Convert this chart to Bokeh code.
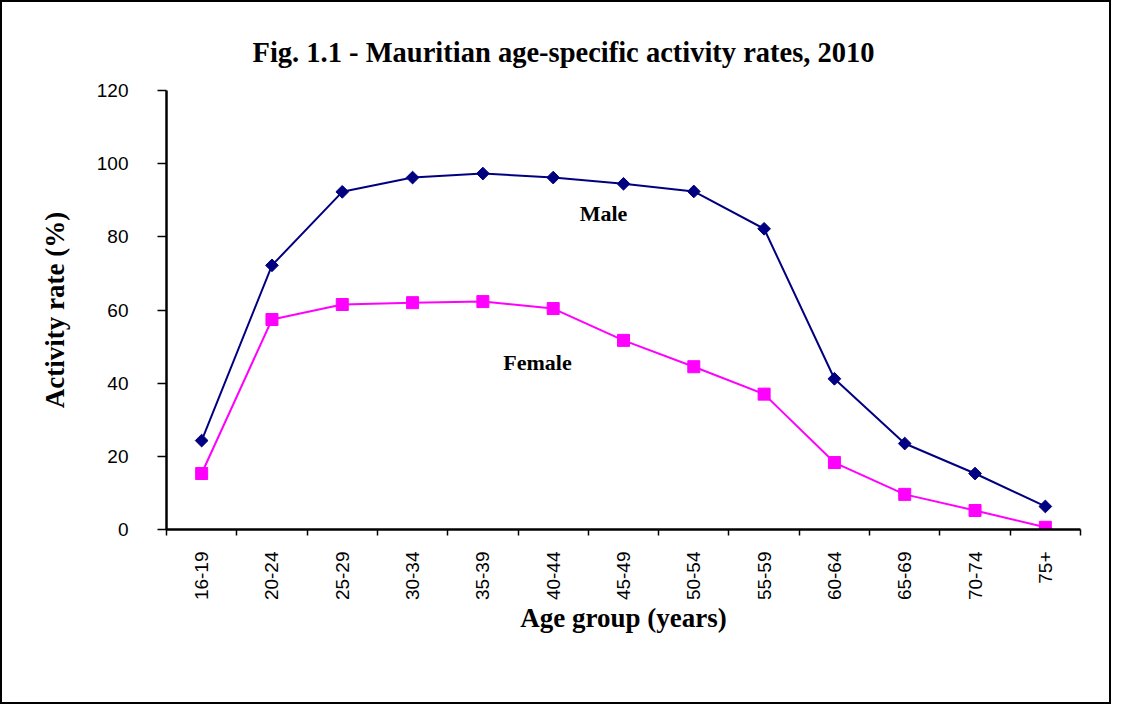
import math
from bokeh.plotting import figure
from bokeh.models import Range1d, FixedTicker, Label, Title
from bokeh.embed import file_html
from bokeh.resources import INLINE

# ---- data ----
age_groups = ["16-19", "20-24", "25-29", "30-34", "35-39", "40-44", "45-49",
              "50-54", "55-59", "60-64", "65-69", "70-74", "75+"]
male_rate = [24.3, 72.2, 92.3, 96.2, 97.3, 96.2, 94.5, 92.4, 82.2, 41.2, 23.5, 15.3, 6.3]
female_rate = [15.3, 57.4, 61.5, 62.0, 62.3, 60.4, 51.7, 44.5, 37.0, 18.3, 9.6, 5.2, 0.6]
y_ticks = [0, 20, 40, 60, 80, 100, 120]

title_text = "Fig. 1.1 - Mauritian age-specific activity rates, 2010"
x_title = "Age group (years)"
y_title = "Activity rate (%)"

xs = list(range(len(age_groups)))

SERIF = "Liberation Serif"
SANS = "Liberation Sans"

p = figure(frame_width=914, frame_height=439,
           x_range=Range1d(-0.5, len(age_groups) - 0.5),
           y_range=Range1d(0, 120),
           output_backend="svg", toolbar_location=None,
           min_border_left=164, min_border_right=29,
           min_border_top=88, min_border_bottom=173)
p.styles = {"border": "2px solid black"}
p.outline_line_color = None
p.xgrid.visible = False
p.ygrid.visible = False
p.background_fill_color = "white"
p.border_fill_color = "white"

# title (offset from the left of the plotting frame)
t = Title(text=title_text, align="left", offset=86,
          text_font=SERIF, text_font_style="bold", text_font_size="28.5px",
          text_color="black", standoff=46)
p.add_layout(t, "above")

# x axis: labels at category centres, ticks between categories
xa = p.xaxis[0]
xa.ticker = FixedTicker(ticks=xs, minor_ticks=[i - 0.5 for i in range(len(age_groups) + 1)])
xa.major_label_overrides = {i: lab for i, lab in zip(xs, age_groups)}
xa.major_tick_out = 0
xa.major_tick_in = 0
xa.minor_tick_out = 6
xa.minor_tick_in = 0
xa.minor_tick_line_color = "black"
xa.minor_tick_line_width = 1.5
xa.axis_line_width = 2.5
xa.axis_line_color = "black"
xa.major_label_orientation = math.pi / 2
xa.major_label_text_font = SANS
xa.major_label_text_font_size = "19px"
xa.major_label_text_color = "black"
xa.major_label_standoff = 16
xa.axis_label = x_title
xa.axis_label_text_font = SERIF
xa.axis_label_text_font_style = "bold"
xa.axis_label_text_font_size = "27px"
xa.axis_label_text_color = "black"
xa.axis_label_standoff = 0

ya = p.yaxis[0]
ya.ticker = FixedTicker(ticks=y_ticks)
ya.major_tick_out = 9
ya.major_tick_in = 0
ya.major_tick_line_width = 1.5
ya.major_tick_line_color = "black"
ya.minor_tick_line_color = None
ya.axis_line_width = 2.5
ya.axis_line_color = "black"
ya.major_label_text_font = SANS
ya.major_label_text_font_size = "19px"
ya.major_label_text_color = "black"
ya.major_label_standoff = 29
ya.axis_label = y_title
ya.axis_label_text_font = SERIF
ya.axis_label_text_font_style = "bold"
ya.axis_label_text_font_size = "27px"
ya.axis_label_text_color = "black"
ya.axis_label_standoff = 24

# series
p.line(xs, male_rate, line_color="#000080", line_width=2)
p.scatter(xs, male_rate, marker="square", angle=0.785398, size=9,
          fill_color="#000080", line_color="#000080")
p.line(xs, female_rate, line_color="#FF00FF", line_width=2)
p.scatter(xs, female_rate, marker="square", size=12,
          fill_color="#FF00FF", line_color="#FF00FF")

# annotations
p.add_layout(Label(x=5.715, y=86.4, text="Male", text_font=SERIF,
                   text_font_style="bold", text_font_size="22px",
                   text_align="center", text_baseline="middle", text_color="black"))
p.add_layout(Label(x=4.777, y=45.6, text="Female", text_font=SERIF,
                   text_font_style="bold", text_font_size="22px",
                   text_align="center", text_baseline="middle", text_color="black"))

open("out.html", "w").write(file_html(p, INLINE))
